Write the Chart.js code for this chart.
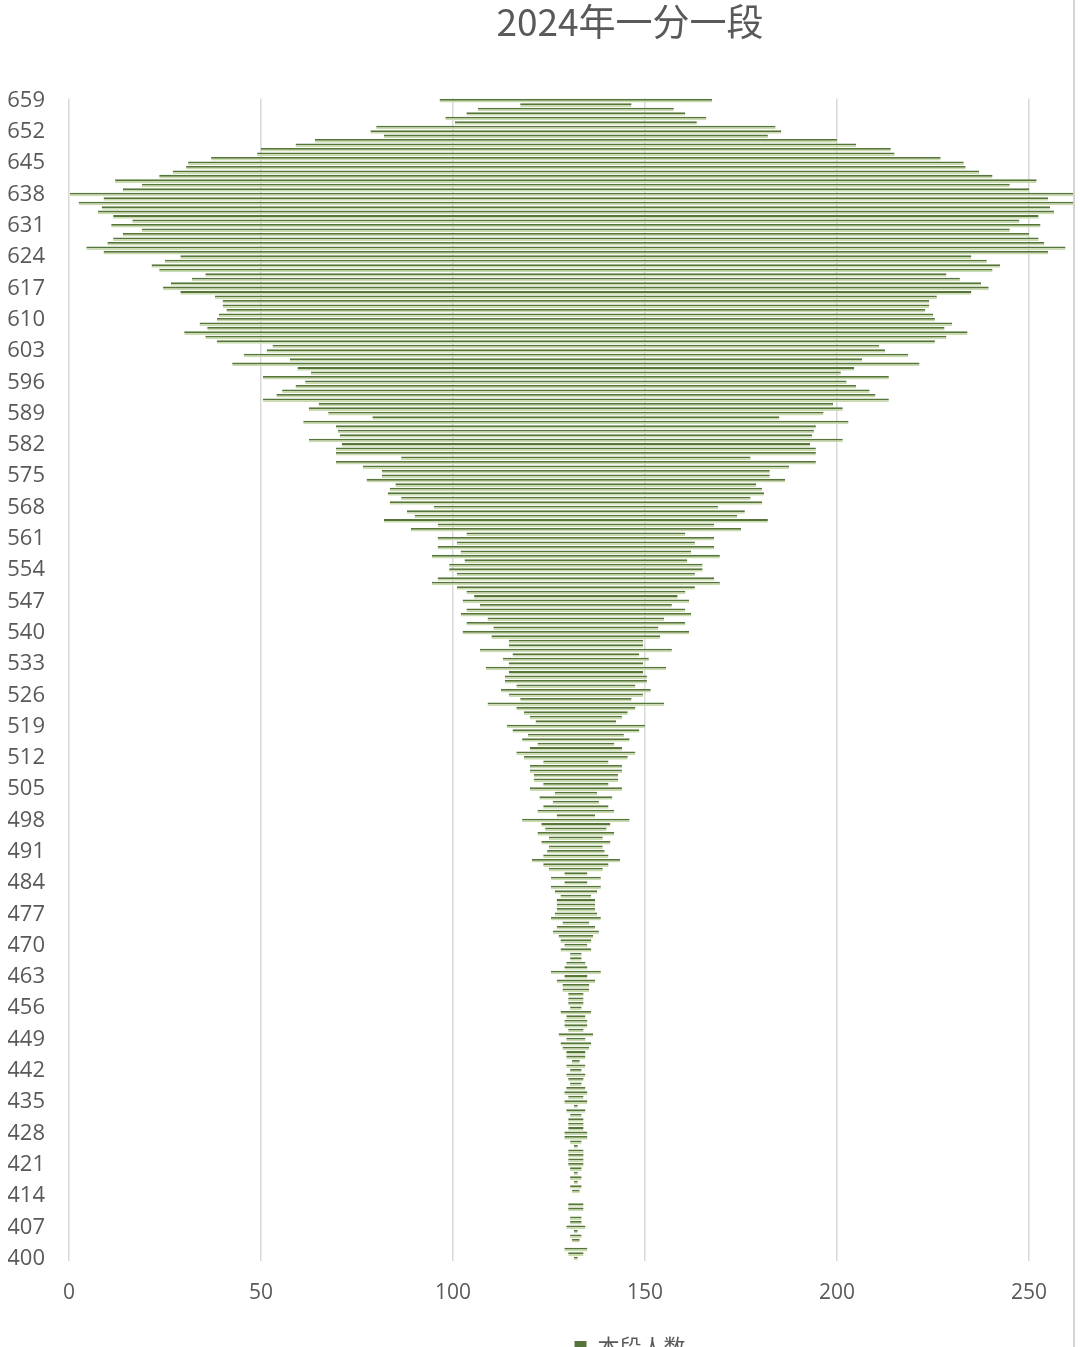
<!DOCTYPE html>
<html>
<head>
<meta charset="utf-8">
<script src="https://cdn.jsdelivr.net/npm/chart.js@4.4.1/dist/chart.umd.min.js"></script>
<style>
    html, body { margin: 0; padding: 0; background: #ffffff; }
    #marco { position: relative; width: 1073px; height: 1347px; overflow: hidden; }
    #borde { position: absolute; left: 1073px; top: 0; width: 2px; height: 1347px; background: #d3d3d3; }
    canvas { display: block; }
</style>
</head>
<body>
<div id="marco"><canvas id="bar-chart" width="1260" height="1368"></canvas></div>
<div id="borde"></div>
<script>
// puntajes de 659 a 400 (una categoria por punto)
const puntajes = [];
for (let p = 659; p >= 400; p--) puntajes.push(p);

// 本段人数, en el mismo orden (659 -> 400)
const personas = [
    71, 29, 51, 57, 68, 63, 104, 107, 100, 136,      // 659-650
    146, 164, 166, 190, 202, 203, 210, 217, 240, 226, // 649-640
    236, 264, 246, 259, 247, 249, 241, 231, 242, 226, // 639-630
    236, 241, 244, 255, 246, 206, 214, 221, 217, 193, // 629-620
    200, 211, 215, 206, 188, 184, 184, 182, 186, 187, // 619-610
    196, 192, 204, 193, 187, 158, 161, 173, 149, 179, // 609-600
    145, 138, 163, 141, 146, 153, 156, 163, 134, 139, // 599-590
    129, 106, 142, 125, 124, 123, 139, 122, 125, 125, // 589-580
    91, 125, 111, 101, 101, 109, 94, 97, 98, 91,      // 579-570
    97, 74, 88, 84, 100, 72, 86, 57, 72, 62,          // 569-560
    72, 60, 75, 58, 66, 66, 62, 72, 75, 62,           // 559-550
    57, 53, 59, 50, 57, 60, 46, 57, 43, 59,           // 549-540
    44, 35, 35, 50, 33, 38, 35, 47, 35, 37,           // 539-530
    37, 31, 39, 35, 29, 46, 31, 27, 24, 21,           // 529-520
    36, 33, 25, 28, 20, 24, 31, 27, 17, 24,           // 519-510
    24, 22, 22, 17, 24, 11, 19, 12, 17, 20,           // 509-500
    10, 28, 18, 16, 20, 14, 18, 14, 15, 17,           // 499-490
    23, 17, 14, 6, 13, 6, 13, 11, 8, 10,              // 489-480
    10, 10, 11, 13, 7, 10, 12, 9, 8, 6,               // 479-470
    8, 3, 3, 5, 6, 13, 6, 10, 7, 7,                   // 469-460
    4, 4, 4, 3, 8, 5, 6, 6, 4, 9,                     // 459-450
    5, 8, 7, 5, 5, 2, 5, 3, 5, 4,                     // 449-440
    3, 5, 6, 4, 6, 1, 5, 3, 4, 4,                     // 439-430
    4, 6, 6, 3, 1, 4, 4, 4, 4, 3,                     // 429-420
    1, 3, 1, 3, 2, 0, 0, 4, 4, 0,                     // 419-410
    3, 3, 5, 1, 3, 2, 0, 6, 4, 1                      // 409-400
];

const ticks_x = [0, 50, 100, 150, 200, 250, 300];
const titulo = '2024年一分一段';
const etiqueta = '本段人数';

const color_barra = '#cbdbb0';
const color_borde = '#55753a';
const color_texto = '#595959';

document.addEventListener("DOMContentLoaded", function(event) {
    build_chart_embudo(document.getElementById("bar-chart"), puntajes, personas, etiqueta, titulo);
});

const build_chart_embudo = (id_canvas, etiquetas, datos, label, texto_titulo) => {
    // barras centradas, como la serie invisible de Excel: centro = max / 2
    const centro = Math.max(...datos) / 2;
    const rangos = datos.map(n => n > 0 ? [centro - n / 2, centro + n / 2] : null);
    try{
        new Chart(id_canvas, {
            type: 'bar',
            data: {
                labels: etiquetas,
                datasets: [
                    {
                        label: label,
                        backgroundColor: color_barra,
                        borderColor: color_borde,
                        borderWidth: {top: 2, bottom: 0, left: 0, right: 0},
                        borderSkipped: false,
                        barPercentage: 0.8,
                        categoryPercentage: 1,
                        data: rangos
                    }
                ]
            },
            options: {
                responsive: false,
                animation: false,
                indexAxis: 'y',
                layout: { padding: { left: 8, right: 8, top: 0, bottom: 0 } },
                scales: {
                    x: {
                        min: 0, max: 300,
                        afterBuildTicks: (eje) => { eje.ticks = ticks_x.map(v => ({value: v})); },
                        afterFit: (eje) => { eje.paddingRight = 39; },
                        grid: { color: '#d9d9d9', lineWidth: 1.5, drawTicks: false },
                        border: { display: false },
                        ticks: { color: color_texto, padding: 20, font: {family: 'Open Sans', size: 21} }
                    },
                    y: {
                        afterFit: (eje) => { eje.width = 61; },
                        grid: { display: false, drawTicks: false },
                        border: { display: false },
                        ticks: {
                            autoSkip: false,
                            color: color_texto,
                            padding: 24,
                            font: {family: 'Open Sans', size: 22},
                            callback: function(valor) {
                                const p = this.getLabelForValue(valor);
                                return (p - 400) % 7 === 0 ? p : '';
                            }
                        }
                    }
                },
                plugins: {
                    title: {
                        display: true,
                        text: texto_titulo,
                        color: color_texto,
                        font: {family: 'Noto Sans CJK SC', size: 37, weight: 'normal'},
                        padding: {top: 0, bottom: 54}
                    },
                    legend: {
                        position: 'bottom',
                        labels: {
                            color: color_texto,
                            boxWidth: 12, boxHeight: 12,
                            font: {family: 'Noto Sans CJK SC', size: 22},
                            generateLabels: (chart) => [{
                                text: label, fillStyle: color_borde, strokeStyle: color_borde,
                                lineWidth: 0, fontColor: color_texto, datasetIndex: 0
                            }]
                        }
                    },
                    tooltip: { enabled: false }
                }
            }
        });
    }catch{
        console.error("Ocurrio un error");
    }
}
</script>
</body>
</html>
